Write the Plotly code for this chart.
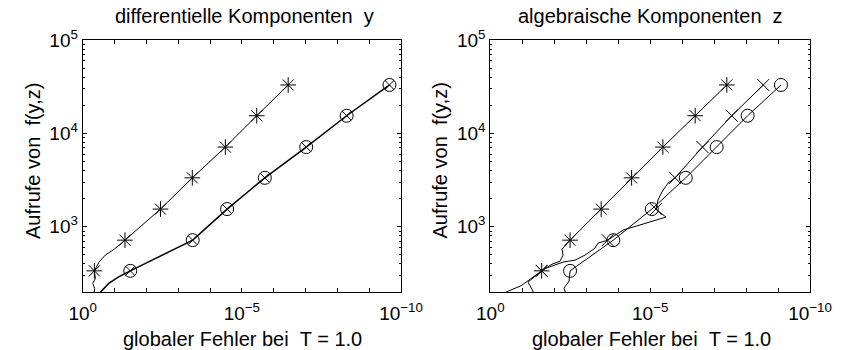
import plotly.graph_objects as go

FONT = "Liberation Sans, Arial, Helvetica, sans-serif"

# ---------------- data ----------------
calls = [337, 718, 1545, 3340, 7130, 15450, 33000]

# left panel: differential components y
y_star_err = [0.43, 0.047, 3.6e-3, 3.6e-4, 3.3e-5, 3.4e-6, 3.5e-7]
y_circ_err = [3.2e-2, 3.5e-4, 2.9e-5, 1.9e-6, 9.5e-8, 5.1e-9, 2.3e-10]
y_star_line_err = [0.45, 0.42, 0.485, 0.40, 0.43, 0.308, 0.195, 0.102, 0.047,
                   3.6e-3, 3.6e-4, 3.3e-5, 3.4e-6, 3.5e-7]
y_star_line_calls = [180, 218, 247, 279, 337, 418, 497, 575, 718,
                     1545, 3340, 7130, 15450, 33000]
y_circ_line_err = [0.338, 0.248, 0.152, 0.074, 3.2e-2, 3.5e-4, 2.9e-5,
                   1.9e-6, 9.5e-8, 5.1e-9, 2.3e-10]
y_circ_line_calls = [185, 209, 247, 290, 337, 718, 1545, 3340, 7130, 15450, 33000]

# right panel: algebraic components z
z_star_err = [0.0247, 3.2e-3, 3.4e-4, 3.8e-5, 4.0e-6, 3.9e-7, 4.0e-8]
z_x_err = [0.0247, 2.13e-4, 6.6e-6, 1.67e-6, 2.3e-7, 2.8e-8, 2.9e-9]
z_circ_err = [3.2e-3, 1.42e-4, 8.9e-6, 7.7e-7, 8.3e-8, 8.9e-9, 8.1e-10]

z_star_line_err = [0.497, 0.279, 0.110, 0.0533, 0.0247, 0.0117, 6.6e-3, 5.3e-3,
                   5.7e-3, 3.2e-3, 3.4e-4, 3.8e-5, 4.0e-6, 3.9e-7, 4.0e-8]
z_star_line_calls = [185, 204, 233, 281, 337, 397, 427, 497, 575, 718,
                     1545, 3340, 7130, 15450, 33000]
z_x_line_err = [0.0496, 0.0462, 0.0662, 0.040, 0.0247, 0.0181, 9.5e-3, 5.3e-3,
                2.24e-3, 1.09e-3, 5.3e-4, 4.3e-4, 2.13e-4, 7.1e-5, 3.2e-6,
                6.6e-6, 5.7e-6, 4.3e-6, 2.77e-6, 1.67e-6, 2.3e-7, 2.8e-8, 2.9e-9]
z_x_line_calls = [180, 204, 255, 296, 337, 360, 387, 418, 439, 497, 590, 667,
                  718, 920, 1268, 1545, 1928, 2350, 2930, 3340, 7130, 15450, 33000]
z_circ_line_err = [4.3e-3, 4.95e-3, 3.45e-3, 3.2e-3, 1.42e-4, 8.9e-6, 7.7e-7,
                   8.3e-8, 8.9e-9, 8.1e-10]
z_circ_line_calls = [190, 220, 261, 337, 718, 1545, 3340, 7130, 15450, 33000]

titles = ["differentielle Komponenten \u00a0y", "algebraische Komponenten \u00a0z"]
xlabel = "globaler Fehler bei \u00a0T = 1.0"
ylabel = "Aufrufe von \u00a0f(y,z)"

x_tickvals = [10.0 ** (-k) for k in range(0, 11)]
x_ticktext = ["10<sup>0</sup>", "", "", "", "", "10<sup>\u22125</sup>",
              "", "", "", "", "10<sup>\u221210</sup>"]
y_tickvals = [1e3, 1e4, 1e5]
y_ticktext = ["10<sup>3</sup>", "10<sup>4</sup>", "10<sup>5</sup>"]
y_minor = [m * 10 ** e for e in (2, 3, 4) for m in range(2, 10)]

# ---------------- figure ----------------
fig = go.Figure()

def line(x, y, xa, ya, w=1.0):
    fig.add_trace(go.Scatter(x=x, y=y, mode="lines", xaxis=xa, yaxis=ya,
                             line=dict(color="black", width=w),
                             showlegend=False, hoverinfo="skip"))

def marks(x, y, xa, ya, sym, size):
    fig.add_trace(go.Scatter(x=x, y=y, mode="markers", xaxis=xa, yaxis=ya,
                             marker=dict(symbol=sym, size=size, color="black",
                                         line=dict(color="black", width=1)),
                             showlegend=False))

line(y_star_line_err, y_star_line_calls, "x", "y", 1.0)
line(y_circ_line_err, y_circ_line_calls, "x", "y", 1.5)
marks(y_star_err, calls, "x", "y", "asterisk-open", 13)
marks(y_circ_err, calls, "x", "y", "circle-x-open", 13)

line(z_star_line_err, z_star_line_calls, "x2", "y2", 1.0)
line(z_x_line_err, z_x_line_calls, "x2", "y2", 1.0)
line(z_circ_line_err, z_circ_line_calls, "x2", "y2", 1.0)
marks(z_star_err, calls, "x2", "y2", "asterisk-open", 13)
marks(z_x_err, calls, "x2", "y2", "x-thin-open", 12)
marks(z_circ_err, calls, "x2", "y2", "circle-open", 13)

W, H = 850, 350
def px(x):
    return x / W
def py(y):
    return 1 - y / H

common_x = dict(type="log", range=[0, -10], autorange=False, automargin=False,
                tickmode="array", tickvals=x_tickvals, ticktext=x_ticktext,
                ticks="inside", ticklen=4, tickcolor="black", tickwidth=1,
                ticklabelstandoff=4,
                showline=True, linecolor="black", linewidth=1, mirror="allticks",
                showgrid=False, zeroline=False,
                tickfont=dict(family=FONT, size=19, color="black"))
common_y = dict(type="log", range=[2.301, 5], autorange=False, automargin=False,
                tickmode="array", tickvals=y_tickvals, ticktext=y_ticktext,
                ticks="inside", ticklen=4, tickcolor="black", tickwidth=1,
                minor=dict(tickmode="array", tickvals=y_minor, ticks="inside",
                           ticklen=2, tickcolor="black", tickwidth=1),
                showline=True, linecolor="black", linewidth=1, mirror="allticks",
                showgrid=False, zeroline=False,
                tickfont=dict(family=FONT, size=19, color="black"))

fig.update_layout(
    width=W, height=H, margin=dict(l=0, r=0, t=0, b=0),
    paper_bgcolor="white", plot_bgcolor="white",
    xaxis=dict(domain=[px(82.7), px(401)], anchor="y", **common_x),
    yaxis=dict(domain=[py(292), py(40)], anchor="x", **common_y),
    xaxis2=dict(domain=[px(490.3), px(810)], anchor="y2", **common_x),
    yaxis2=dict(domain=[py(292), py(40)], anchor="x2", **common_y),
    font=dict(family=FONT, color="black"),
)

annots = []
for cx, t in ((244, titles[0]), (650, titles[1])):
    annots.append(dict(text=t, x=px(cx), y=py(16), xref="paper", yref="paper",
                       xanchor="center", yanchor="middle", showarrow=False,
                       font=dict(family=FONT, size=20, color="black")))
for cx in (242.5, 651):
    annots.append(dict(text=xlabel, x=px(cx), y=py(339), xref="paper", yref="paper",
                       xanchor="center", yanchor="middle", showarrow=False,
                       font=dict(family=FONT, size=20, color="black")))
for cx in (33, 439.5):
    annots.append(dict(text=ylabel, x=px(cx), y=py(161), xref="paper", yref="paper",
                       xanchor="center", yanchor="middle", showarrow=False,
                       textangle=-90,
                       font=dict(family=FONT, size=20, color="black")))
fig.update_layout(annotations=annots)

fig.write_html("out.html")
